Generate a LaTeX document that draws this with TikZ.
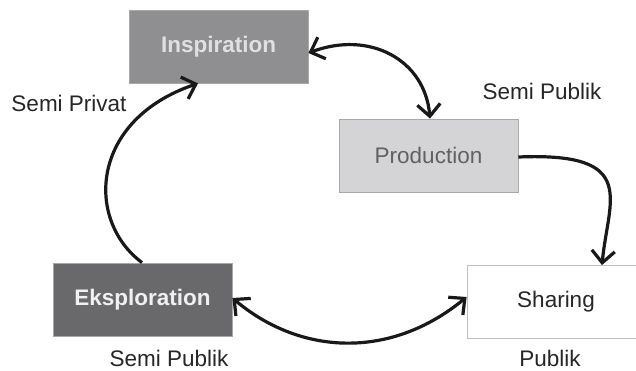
\documentclass[tikz,border=0pt]{standalone}
\usepackage{fontspec}
\setmainfont{Liberation Sans}
\usetikzlibrary{arrows.meta}
\definecolor{inspfill}{HTML}{8F8F91}
\definecolor{prodfill}{HTML}{D4D4D6}
\definecolor{eksfill}{HTML}{69696B}
\definecolor{edgegray}{HTML}{A8A8A8}
\tikzset{
  box/.style={rectangle, minimum width=179pt, minimum height=73pt, inner sep=0pt,
              font=\fontsize{22.5}{26}\selectfont, draw=edgegray, line width=0.8pt},
  tag/.style={font=\fontsize{22.5}{26}\selectfont, text=black!85, inner sep=0pt},
  barb/.tip={Straight Barb[length=12pt,width=23pt,line width=3.2pt]},
  flow/.style={line width=3.2pt, black!90, -barb},
  twoway/.style={flow, barb-barb}
}
\begin{document}
\begin{tikzpicture}[x=1pt, y=-1pt]
\useasboundingbox (0,0) rectangle (636,371);
% stage boxes
\node[box, fill=inspfill, text=white!88!black, font=\fontsize{22.5}{26}\selectfont\bfseries] (insp) at (218.5,46.5) {Inspiration};
\node[box, fill=prodfill, text=black!62] (prod) at (428.5,155.5) {Production};
\node[box, fill=white, draw=black!25, minimum width=178pt, text=black!85] (shar) at (556,302) {Sharing};
\node[box, fill=eksfill, text=white!94!black, font=\fontsize{22.5}{26}\selectfont\bfseries] (eks) at (142.5,299.5) {Eksploration};
% privacy labels
\node[tag] (lsp) at (69,103) {Semi Privat};
\node[tag] (lspub1) at (542,91) {Semi Publik};
\node[tag] (lspub2) at (169,358) {Semi Publik};
\node[tag] (lpub) at (550,358) {Publik};
% connectors
\draw[twoway] (insp.east |- 0,53) .. controls (370,30) and (425,60) .. (prod.north -| 430,0);
\draw[flow] (prod.east |- 0,157) .. controls (640,152) and (608,200) .. (shar.north -| 602,0);
\draw[twoway] (eks.east |- 0,298) .. controls (300,355) and (390,360) .. (shar.west |- 0,297);
\draw[flow] (eks.north -| 142,0) .. controls (85,220) and (90,120) .. (insp.south -| 198,0);
\end{tikzpicture}
\end{document}
